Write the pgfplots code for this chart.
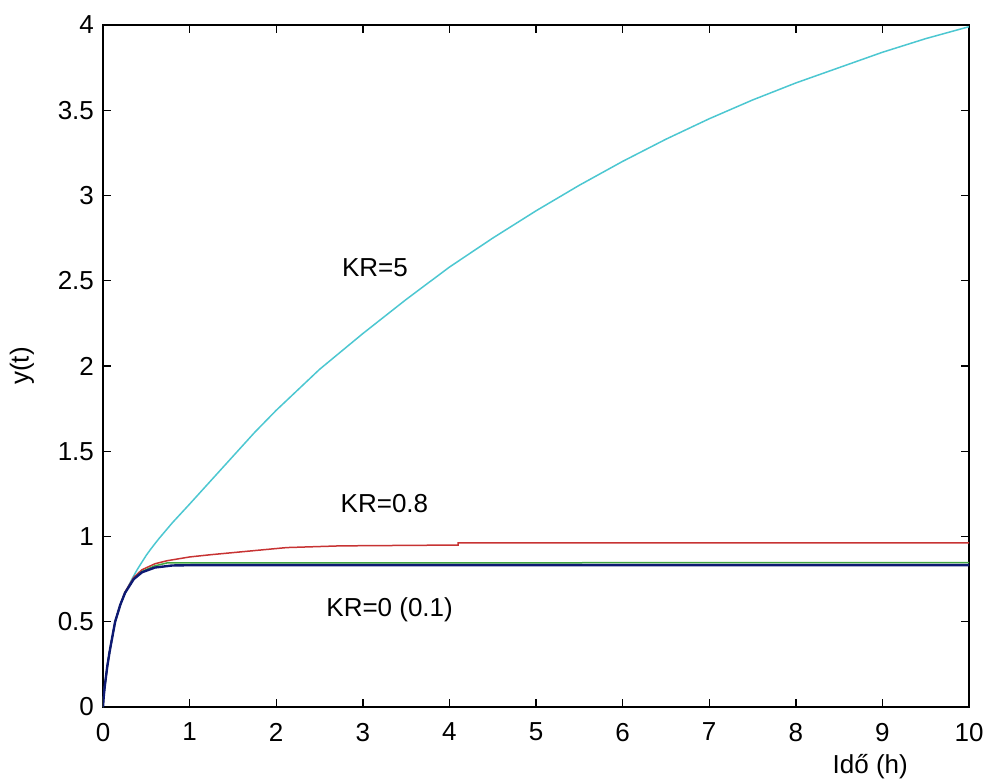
\documentclass[border=0pt]{standalone}
\usepackage{pgfplots}
\pgfplotsset{compat=1.18}
\usepackage{fontspec}
\setmainfont{Liberation Sans}
\definecolor{mcyan}{rgb}{0.3,0.78,0.82}
\definecolor{mred}{rgb}{0.78,0.2,0.2}
\definecolor{mgreen}{rgb}{0.25,0.65,0.25}
\definecolor{mblue}{rgb}{0.05,0.1,0.45}
\begin{document}
\begin{tikzpicture}
\begin{axis}[
  name=ax,
  scale only axis,
  width=433pt, height=341pt,
  xmin=0, xmax=10, ymin=0, ymax=4,
  xtick={0,1,...,10},
  ytick={0,0.5,...,4},
  tick align=inside,
  major tick length=4pt,
  axis line style={line width=0.7pt},
  every tick/.style={black, line width=0.7pt},
  font=\fontsize{13}{15}\selectfont,
  /pgf/number format/assume math mode=true,
  yticklabel style={xshift=-1pt},
  xticklabel style={yshift=-4.5pt},
  xlabel={Idő (h)},
  ylabel={y(t)},
  xlabel style={at={(axis description cs:0.886,0)}, anchor=base, yshift=-33pt},
  ylabel style={at={(axis description cs:0,0.5)}, anchor=center, yshift=40.5pt},
]
\addplot[mcyan, line width=0.75pt] coordinates {
(0,0) (0.005,0.04) (0.01,0.07) (0.02,0.12) (0.035,0.18) (0.05,0.24) (0.075,0.32) (0.1,0.39) (0.14,0.5) (0.2,0.6) (0.25,0.66) (0.3,0.715) (0.35,0.765) (0.4,0.81) (0.45,0.85) (0.5,0.89) (0.55,0.925) (0.6,0.958) (0.65,0.99) (0.7,1.02) (0.8,1.08) (0.9,1.135) (1.0,1.19) (1.25,1.33) (1.5,1.47) (1.75,1.61) (2,1.74) (2.5,1.98) (3,2.19) (3.5,2.39) (4,2.58) (4.5,2.75) (5,2.91) (5.5,3.06) (6,3.20) (6.5,3.33) (7,3.45) (7.5,3.56) (8,3.66) (8.5,3.75) (9,3.84) (9.5,3.92) (10,3.99)
};
\addplot[mred, line width=0.75pt] coordinates {
(0,0) (0.005,0.04) (0.01,0.07) (0.02,0.12) (0.035,0.18) (0.05,0.24) (0.075,0.32) (0.1,0.39) (0.14,0.5) (0.2,0.6) (0.255,0.675) (0.355,0.76) (0.45,0.805) (0.6,0.84) (0.74,0.858) (1.0,0.88) (1.24,0.893) (1.7,0.915) (2.12,0.935) (2.74,0.945) (4.1,0.95) (4.1,0.962) (10,0.962)
};
\addplot[mgreen, line width=0.75pt] coordinates {
(0,0) (0.005,0.04) (0.01,0.07) (0.02,0.12) (0.035,0.18) (0.05,0.24) (0.075,0.32) (0.1,0.39) (0.14,0.5) (0.2,0.6) (0.255,0.672) (0.355,0.752) (0.45,0.795) (0.6,0.828) (0.74,0.845) (10,0.847)
};
\addplot[mblue, line width=1.2pt] coordinates {
(0,0) (0.005,0.04) (0.01,0.07) (0.02,0.12) (0.035,0.18) (0.05,0.24) (0.075,0.32) (0.1,0.39) (0.14,0.5) (0.2,0.6) (0.255,0.67) (0.355,0.75) (0.45,0.79) (0.6,0.818) (0.8,0.83) (1.05,0.832) (10,0.832)
};
\node at (axis cs:3.14,2.575) {KR=5};
\node at (axis cs:3.25,1.196) {KR=0.8};
\node at (axis cs:3.31,0.569) {KR=0 (0.1)};
\end{axis}
\pgfresetboundingbox
\path ([shift={(-51.5pt,-36.5pt)}]ax.south west) rectangle ([shift={(7pt,12.5pt)}]ax.north east);
\end{tikzpicture}
\end{document}
